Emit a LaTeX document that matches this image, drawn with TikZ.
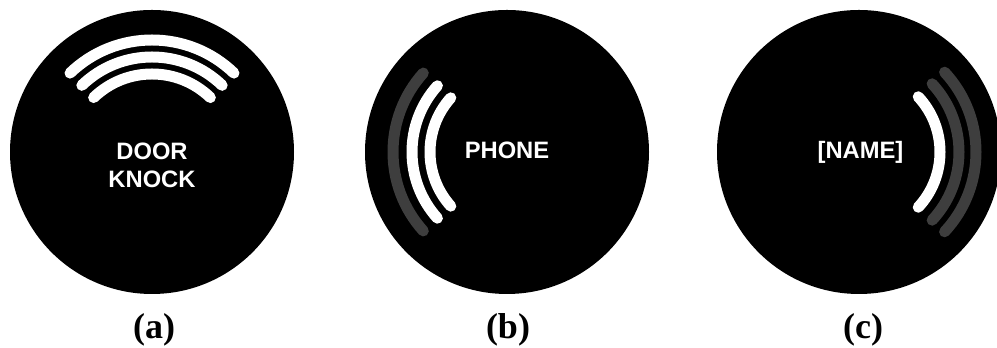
\documentclass[tikz,border=0pt]{standalone}
\usepackage{fontspec}
\setmainfont{Liberation Serif}
\setsansfont{Liberation Sans}
\definecolor{wavegray}{RGB}{62,62,62}
\begin{document}
\begin{tikzpicture}[x=0.75pt,y=0.75pt,
  dial/.style={circle, fill=black, draw=none, inner sep=0pt, minimum size=213pt},
  wave/.style={line width=8.25pt, line cap=round, draw=white},
  faint/.style={wave, draw=wavegray},
  caption/.style={font=\fontsize{17.8}{21.2}\selectfont\sffamily\bfseries, text=white, inner sep=0pt, align=center},
  sublabel/.style={font=\fontsize{27}{30}\selectfont\bfseries, inner sep=0pt, anchor=base}]
\useasboundingbox (0,0) rectangle (997,348);
\clip (0,0) rectangle (997,348);

% three round dials
\node[dial] (dialA) at (152,196) {};
\node[dial] (dialB) at (507,196) {};
\node[dial] (dialC) at (859,196) {};

% (a) waves above the text
\coordinate (ca) at ([yshift=-4.5pt]dialA.center);
\foreach \r in {118,101,84}
  \draw[wave] (ca) ++(46:\r) arc[start angle=46, end angle=134, radius=\r];

% (b) waves on the left
\coordinate (cb) at ([xshift=3pt]dialB.center);
\draw[faint] (cb) ++(138:118) arc[start angle=138, end angle=222, radius=118];
\foreach \r in {99,81}
  \draw[wave] (cb) ++(138:\r) arc[start angle=138, end angle=222, radius=\r];

% (c) waves on the right
\coordinate (cc) at (dialC.center);
\draw[wave] (cc) ++(-43:81) arc[start angle=-43, end angle=43, radius=81];
\foreach \r in {100,117}
  \draw[faint] (cc) ++(-43:\r) arc[start angle=-43, end angle=43, radius=\r];

% texts inside the dials
\node[caption] (txtA) at (152,182.5) {DOOR\\KNOCK};
\node[caption, anchor=base] (txtB) at (507,189.5) {PHONE};
\node[caption, anchor=base] (txtC) at (860.5,189) {[NAME]};

% sub-figure labels
\node[sublabel] (labA) at (154,9) {(a)};
\node[sublabel] (labB) at (508,9) {(b)};
\node[sublabel] (labC) at (863,9) {(c)};
\end{tikzpicture}
\end{document}
